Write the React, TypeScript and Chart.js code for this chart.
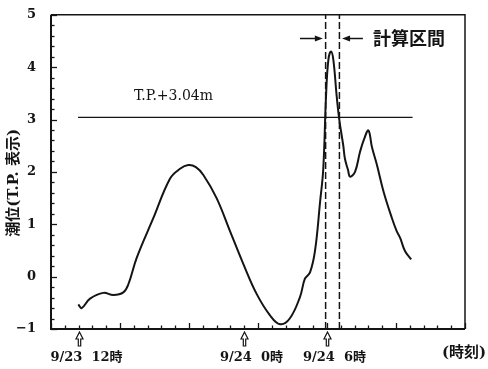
import { useEffect, useRef } from "react";
import { Chart, registerables } from "chart.js";

Chart.register(...registerables);

// time axis: hours from 9/23 10:00
const hours = [
  1.98, 2.22, 2.83, 3.79, 4.52, 5.24, 5.6, 6.21, 7.42, 8.62, 9.35, 9.95, 10.5, 11.04, 12.0,
  12.97, 13.94, 14.9, 15.87, 16.6, 17.3, 18.04, 18.4, 18.77, 19.13, 19.5, 19.73, 19.93, 20.1,
  20.29, 20.46, 20.7, 20.89, 21.18, 21.3, 21.52, 21.67, 22.03, 22.39, 22.68, 23.0, 23.26,
  23.62, 24.1, 24.7, 25.05, 25.3, 25.65, 26.1,
];
const level = [
  -0.53, -0.6, -0.42, -0.31, -0.35, -0.3, -0.15, 0.36, 1.12, 1.87, 2.06, 2.13, 2.09, 1.94, 1.5,
  0.87, 0.24, -0.33, -0.74, -0.91, -0.8, -0.39, -0.04, 0.08, 0.49, 1.43, 2.06, 3.45, 4.14,
  4.3, 4.14, 3.45, 3.0, 2.5, 2.25, 2.04, 1.91, 2.0, 2.38, 2.62, 2.79, 2.47,
  2.13, 1.62, 1.12, 0.87, 0.74, 0.49, 0.33,
];

const refLineHours = [1.96, 26.2];
const refLineLevel = 3.04;
const refLabel = "T.P.+3.04m";
const refLabelHour = 8.88;
const refLabelLevel = 3.45;

const calcStartHour = 19.9;
const calcEndHour = 20.9;
const calcLabel = "計算区間";
const calcArrowLevel = 4.55;
const calcArrowRight = [18.04, 19.7];
const calcArrowLeft = [22.6, 21.09];
const calcLabelHour = 23.33;

const markHours = [2, 14, 20];
const markLabels = ["9/23  12時", "9/24  0時", "9/24  6時"];
const yTitle = "潮位(T.P. 表示)";
const xTitle = "(時刻)";

const xMin = 0;
const xMax = 30;
const yMin = -1;
const yMax = 5;
const xMinorStep = 1;
const xMajorEvery = 5;
const yMinorStep = 0.2;

const INK = "#141414";

const decoPlugin = {
  id: "deco",
  afterDraw(chart: any) {
    const { ctx, chartArea: a } = chart;
    const x = chart.scales.x;
    const y = chart.scales.y;
    ctx.save();
    ctx.strokeStyle = INK;
    ctx.fillStyle = INK;
    ctx.lineCap = "butt";

    // frame
    ctx.lineWidth = 1.5;
    ctx.beginPath();
    ctx.moveTo(a.left, a.top);
    ctx.lineTo(a.right, a.top);
    ctx.lineTo(a.right, a.bottom);
    ctx.stroke();
    ctx.lineWidth = 2;
    ctx.beginPath();
    ctx.moveTo(a.left, a.top);
    ctx.lineTo(a.left, a.bottom);
    ctx.lineTo(a.right, a.bottom);
    ctx.stroke();

    // x ticks (inward)
    ctx.lineWidth = 1.3;
    const nX = Math.round((xMax - xMin) / xMinorStep);
    for (let i = 0; i <= nX; i++) {
      const px = Math.round(x.getPixelForValue(xMin + i * xMinorStep)) + 0.5;
      const len = i % xMajorEvery === 0 ? 6 : 3.5;
      ctx.beginPath();
      ctx.moveTo(px, a.bottom);
      ctx.lineTo(px, a.bottom - len);
      ctx.stroke();
    }
    // y ticks (inward)
    const nY = Math.round((yMax - yMin) / yMinorStep);
    for (let i = 0; i <= nY; i++) {
      const py = Math.round(y.getPixelForValue(yMin + i * yMinorStep)) + 0.5;
      const len = i % 5 === 0 ? 6 : 3.5;
      ctx.beginPath();
      ctx.moveTo(a.left, py);
      ctx.lineTo(a.left + len, py);
      ctx.stroke();
    }

    // reference label
    ctx.font = "14px 'DejaVu Serif'";
    ctx.textAlign = "center";
    ctx.textBaseline = "middle";
    ctx.fillText(refLabel, x.getPixelForValue(refLabelHour), y.getPixelForValue(refLabelLevel));

    // calc interval arrows
    const ay = Math.round(y.getPixelForValue(calcArrowLevel)) + 0.5;
    const drawArrow = (from: number, to: number) => {
      const x0 = x.getPixelForValue(from);
      const x1 = x.getPixelForValue(to);
      const dir = Math.sign(x1 - x0);
      ctx.lineWidth = 1.5;
      ctx.beginPath();
      ctx.moveTo(x0, ay);
      ctx.lineTo(x1 - dir * 5, ay);
      ctx.stroke();
      ctx.beginPath();
      ctx.moveTo(x1, ay);
      ctx.lineTo(x1 - dir * 8, ay - 3);
      ctx.lineTo(x1 - dir * 8, ay + 3);
      ctx.closePath();
      ctx.fill();
    };
    drawArrow(calcArrowRight[0], calcArrowRight[1]);
    drawArrow(calcArrowLeft[0], calcArrowLeft[1]);
    ctx.font = "bold 18px 'Noto Sans CJK JP'";
    ctx.textAlign = "left";
    ctx.fillText(calcLabel, x.getPixelForValue(calcLabelHour), ay);

    // time markers under x axis
    ctx.lineWidth = 1.2;
    ctx.font = "bold 13px 'DejaVu Serif', 'Noto Sans CJK JP'";
    ctx.textAlign = "center";
    markHours.forEach((h, i) => {
      const px = Math.round(x.getPixelForValue(h)) + 0.5;
      const t = a.bottom + 3;
      ctx.beginPath();
      ctx.moveTo(px, t);
      ctx.lineTo(px - 3.5, t + 7);
      ctx.lineTo(px - 1.2, t + 7);
      ctx.lineTo(px - 1.2, t + 14);
      ctx.lineTo(px + 1.2, t + 14);
      ctx.lineTo(px + 1.2, t + 7);
      ctx.lineTo(px + 3.5, t + 7);
      ctx.closePath();
      ctx.stroke();
      ctx.fillText(markLabels[i], px + 7, a.bottom + 29);
    });

    // x title
    ctx.font = "bold 15px 'DejaVu Serif', 'Noto Sans CJK JP'";
    ctx.textAlign = "left";
    ctx.fillText(xTitle, a.right - 23, a.bottom + 24);

    // y title
    ctx.save();
    ctx.translate(14, (a.top + a.bottom) / 2 + 11);
    ctx.rotate(-Math.PI / 2);
    ctx.font = "bold 15px 'DejaVu Serif', 'Noto Sans CJK JP'";
    ctx.textAlign = "center";
    ctx.fillText(yTitle, 0, 0);
    ctx.restore();

    ctx.restore();
  },
};

export default function App() {
  const ref = useRef<HTMLCanvasElement | null>(null);
  useEffect(() => {
    const canvas = ref.current;
    if (!canvas) return;
    const chart = new Chart(canvas, {
      type: "line",
      data: {
        datasets: [
          {
            data: hours.map((h, i) => ({ x: h, y: level[i] })),
            borderColor: INK,
            borderWidth: 2,
            pointRadius: 0,
            tension: 0.4,
            fill: false,
          },
          {
            data: refLineHours.map((h) => ({ x: h, y: refLineLevel })),
            borderColor: INK,
            borderWidth: 1.2,
            pointRadius: 0,
            fill: false,
          },
          {
            data: [
              { x: calcStartHour, y: yMin },
              { x: calcStartHour, y: yMax },
            ],
            borderColor: INK,
            borderWidth: 1.5,
            borderDash: [7, 3],
            pointRadius: 0,
            fill: false,
          },
          {
            data: [
              { x: calcEndHour, y: yMin },
              { x: calcEndHour, y: yMax },
            ],
            borderColor: INK,
            borderWidth: 1.5,
            borderDash: [7, 3],
            pointRadius: 0,
            fill: false,
          },
        ],
      },
      options: {
        animation: false,
        responsive: true,
        maintainAspectRatio: false,
        layout: { padding: { top: 11, right: 23, left: 0, bottom: 0 } },
        plugins: { legend: { display: false }, tooltip: { enabled: false } },
        scales: {
          x: {
            type: "linear",
            min: xMin,
            max: xMax,
            ticks: { display: false },
            grid: { display: false },
            border: { display: false },
            afterFit: (s: any) => {
              s.height = 40;
            },
          },
          y: {
            type: "linear",
            min: yMin,
            max: yMax,
            ticks: {
              stepSize: 1,
              padding: 7,
              color: INK,
              font: { family: "'DejaVu Serif'", weight: "bold", size: 13 },
              callback: (v: any) => String(v).replace("-", "\u2212"),
            },
            grid: { display: false },
            border: { display: false },
            afterFit: (s: any) => {
              s.width = 51;
            },
          },
        },
      },
      plugins: [decoPlugin],
    } as any);
    return () => chart.destroy();
  }, []);
  return (
    <div style={{ position: "fixed", left: 0, top: 0, width: 488, height: 369, background: "#fff" }}>
      <canvas ref={ref} />
    </div>
  );
}
